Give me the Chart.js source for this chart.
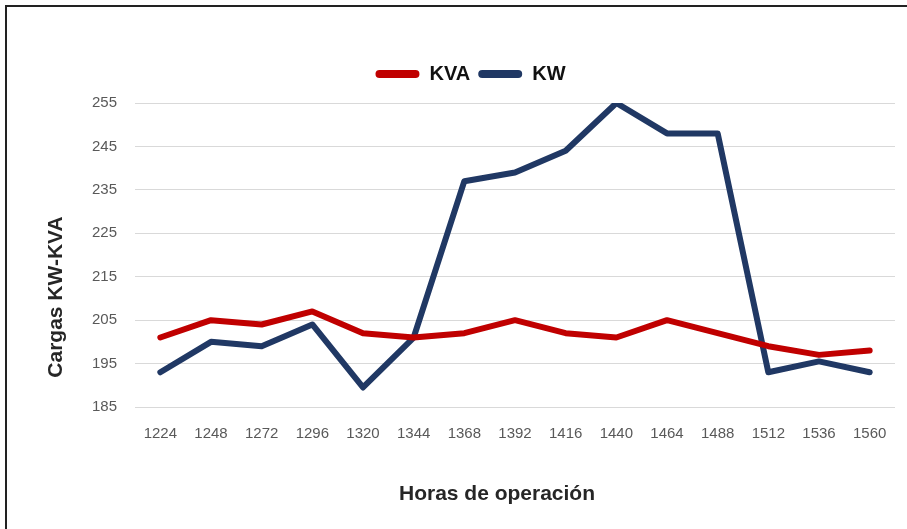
<!DOCTYPE html>
<html>
<head>
<meta charset="utf-8">
<script src="https://cdn.jsdelivr.net/npm/chart.js@4.4.0/dist/chart.umd.min.js"></script>
<style>
    html, body { margin: 0; padding: 0; background: #ffffff; overflow: hidden; }
    #frame {
        position: absolute; left: 5px; top: 5px; width: 940px; height: 560px;
        border: 2px solid #222222; pointer-events: none;
    }
    #wrap { position: absolute; left: 0; top: 0; width: 907px; height: 529px; }
</style>
</head>
<body>
<div id="wrap"><canvas id="chart" width="907" height="529"></canvas></div>
<div id="frame"></div>
<script>
    // Horas de operación (eje X)
    var horas = ['1224', '1248', '1272', '1296', '1320', '1344', '1368', '1392',
        '1416', '1440', '1464', '1488', '1512', '1536', '1560'];

    // Cargas
    var kva = [201, 205, 204, 207, 202, 201, 202, 205, 202, 201, 205, 202, 199, 197, 198];
    var kw = [193, 200, 199, 204, 189.5, 201, 237, 239, 244, 255, 248, 248, 193, 195.5, 193];

    // Eje Y
    var yMin = 185, yMax = 255, yStep = 10;

    var tickFont = { family: 'Liberation Sans, Arial, sans-serif', size: 15 };
    var boldFont = 'bold 21px "Liberation Sans", Arial, sans-serif';

    /**
     * Draws the two axis titles where the original places them.
     */
    var axisTitles = {
        id: 'axisTitles',
        afterDraw: function (chart) {
            var ctx = chart.ctx;
            ctx.save();
            ctx.fillStyle = '#262626';
            ctx.font = boldFont;
            ctx.textAlign = 'center';
            ctx.textBaseline = 'middle';
            ctx.fillText('Horas de operación', 497, 494);
            ctx.translate(56, 297);
            ctx.rotate(-Math.PI / 2);
            ctx.fillText('Cargas KW-KVA', 0, 0);
            ctx.restore();
        }
    };

    // Extra room under the legend, and the legend a bit to the right.
    var legendPlace = {
        id: 'legendPlace',
        beforeInit: function (chart) {
            var fit = chart.legend.fit;
            chart.legend.fit = function () {
                fit.bind(chart.legend)();
                this.height += 9;
            };
        },
        afterLayout: function (chart) {
            chart.legend.left += 46;
        }
    };

    new Chart(document.getElementById('chart'), {
        type: 'line',
        data: {
            labels: horas,
            datasets: [
                {
                    label: 'KVA',
                    data: kva,
                    borderColor: '#C00000',
                    backgroundColor: '#C00000',
                    borderWidth: 6,
                    pointRadius: 0,
                    tension: 0,
                    borderCapStyle: 'round',
                    borderJoinStyle: 'round'
                },
                {
                    label: 'KW',
                    data: kw,
                    borderColor: '#203864',
                    backgroundColor: '#203864',
                    borderWidth: 6,
                    pointRadius: 0,
                    tension: 0,
                    borderCapStyle: 'round',
                    borderJoinStyle: 'round'
                }
            ]
        },
        options: {
            responsive: false,
            animation: false,
            layout: { padding: { left: 0, right: 12, top: 56, bottom: 0 } },
            plugins: {
                legend: {
                    position: 'top',
                    labels: {
                        boxWidth: 44,
                        boxHeight: 8,
                        padding: 8,
                        useBorderRadius: true,
                        borderRadius: 4,
                        color: '#111111',
                        font: { family: 'Liberation Sans, Arial, sans-serif', size: 20, weight: 'bold' },
                        generateLabels: function (chart) {
                            var items = Chart.defaults.plugins.legend.labels.generateLabels(chart);
                            items.forEach(function (item) { item.lineWidth = 0; });
                            return items;
                        }
                    }
                },
                tooltip: { enabled: false }
            },
            scales: {
                x: {
                    offset: true,
                    grid: { display: false },
                    border: { display: false },
                    ticks: { color: '#595959', font: tickFont, padding: 10, maxRotation: 0, autoSkip: false },
                    afterFit: function (scale) { scale.height = 122; }
                },
                y: {
                    min: yMin,
                    max: yMax,
                    grid: { color: '#d9d9d9', lineWidth: 1, drawTicks: false },
                    border: { display: false },
                    ticks: { stepSize: yStep, color: '#595959', font: tickFont, padding: 18 },
                    afterFit: function (scale) { scale.width = 135; }
                }
            }
        },
        plugins: [legendPlace, axisTitles]
    });
</script>
</body>
</html>
